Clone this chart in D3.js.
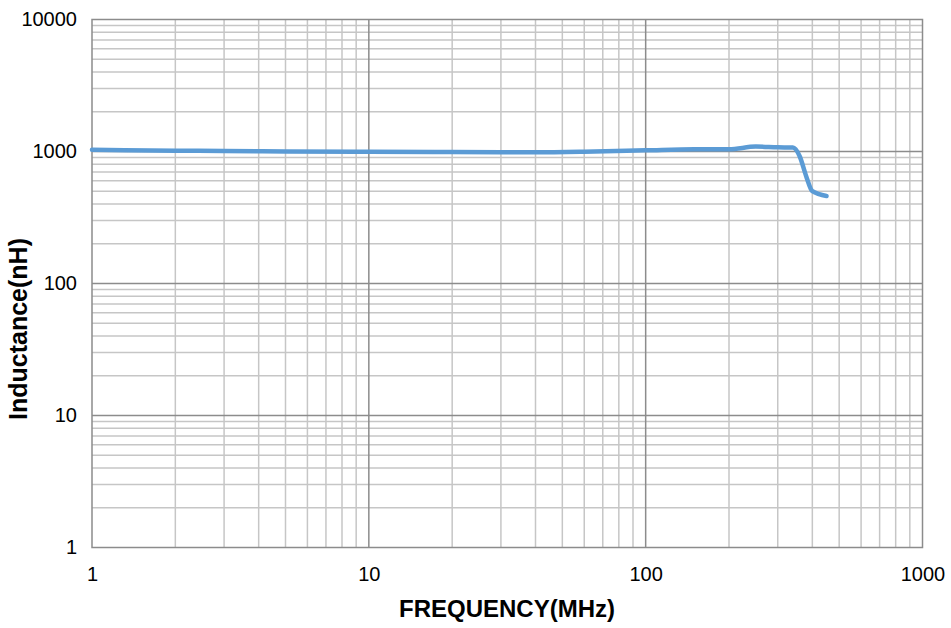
<!DOCTYPE html>
<html><head><meta charset="utf-8">
<script src="https://cdn.jsdelivr.net/npm/d3@7"></script>
<style>body{margin:0;background:#fff}svg{display:block}text{font-family:"Liberation Sans",Arial,sans-serif}</style>
</head><body><svg id="c" width="951" height="628"></svg>
<script>
const freq = [1, 2, 3, 5, 10, 20, 30, 40, 60, 100, 150, 200, 250, 300, 340, 360, 380, 400, 450];
const inductance = [1030, 1015, 1008, 1000, 995, 990, 985, 985, 995, 1020, 1040, 1040, 1090, 1075, 1070, 920, 650, 500, 460];
const xTicks = [1, 10, 100, 1000];
const yTicks = [1, 10, 100, 1000, 10000];
const xTitle = "FREQUENCY(MHz)";
const yTitle = "Inductance(nH)";

const svg = d3.select("#c");
const L = 92, R = 922.5, T = 19.5, B = 547.5;
const x = d3.scaleLog().domain([1, 1000]).range([L, R]);
const y = d3.scaleLog().domain([1, 10000]).range([B, T]);

const minorX = [], minorY = [];
for (let d = 1; d < 1000; d *= 10) for (let k = 2; k <= 9; k++) minorX.push(d * k);
for (let d = 1; d < 10000; d *= 10) for (let k = 2; k <= 9; k++) minorY.push(d * k);

const g = svg.append("g");
g.selectAll(".mx").data(minorX).join("line")
  .attr("x1", d => x(d)).attr("x2", d => x(d)).attr("y1", T).attr("y2", B)
  .attr("stroke", "#c6c6c6").attr("stroke-width", 1.5);
g.selectAll(".my").data(minorY).join("line")
  .attr("y1", d => y(d)).attr("y2", d => y(d)).attr("x1", L).attr("x2", R)
  .attr("stroke", "#c6c6c6").attr("stroke-width", 1.5);
g.selectAll(".Mx").data(xTicks.slice(1, -1)).join("line")
  .attr("x1", d => x(d)).attr("x2", d => x(d)).attr("y1", T).attr("y2", B)
  .attr("stroke", "#8c8c8c").attr("stroke-width", 1.5);
g.selectAll(".My").data(yTicks.slice(1, -1)).join("line")
  .attr("y1", d => y(d)).attr("y2", d => y(d)).attr("x1", L).attr("x2", R)
  .attr("stroke", "#8c8c8c").attr("stroke-width", 1.5);
g.append("rect").attr("x", L).attr("y", T).attr("width", R - L).attr("height", B - T)
  .attr("fill", "none").attr("stroke", "#8c8c8c").attr("stroke-width", 1.5);

const xAxis = svg.append("g").attr("transform", `translate(0,${B})`)
  .call(d3.axisBottom(x).tickValues(xTicks).tickFormat(d3.format("d")).tickSize(0).tickPadding(19));
const yAxis = svg.append("g").attr("transform", `translate(${L},0)`)
  .call(d3.axisLeft(y).tickValues(yTicks).tickFormat(d3.format("d")).tickSize(0).tickPadding(15));
[xAxis, yAxis].forEach(a => {
  a.select(".domain").remove();
  a.selectAll("text").attr("font-size", 20).attr("fill", "#000")
    .style("font-family", '"Liberation Sans",Arial,sans-serif');
});

const line = d3.line().x(d => x(d[0])).y(d => y(d[1])).curve(d3.curveMonotoneX);
svg.append("path").datum(freq.map((f, i) => [f, inductance[i]]))
  .attr("d", line).attr("fill", "none").attr("stroke", "#5b9bd5")
  .attr("stroke-width", 4.5).attr("stroke-linecap", "round").attr("stroke-linejoin", "round");

svg.append("text").attr("x", 507).attr("y", 617).attr("text-anchor", "middle")
  .attr("font-size", 24).attr("font-weight", "bold").text(xTitle);
svg.append("text").attr("transform", `translate(27,329) rotate(-90)`)
  .attr("text-anchor", "middle").attr("font-size", 25).attr("font-weight", "bold").text(yTitle);
</script></body></html>
